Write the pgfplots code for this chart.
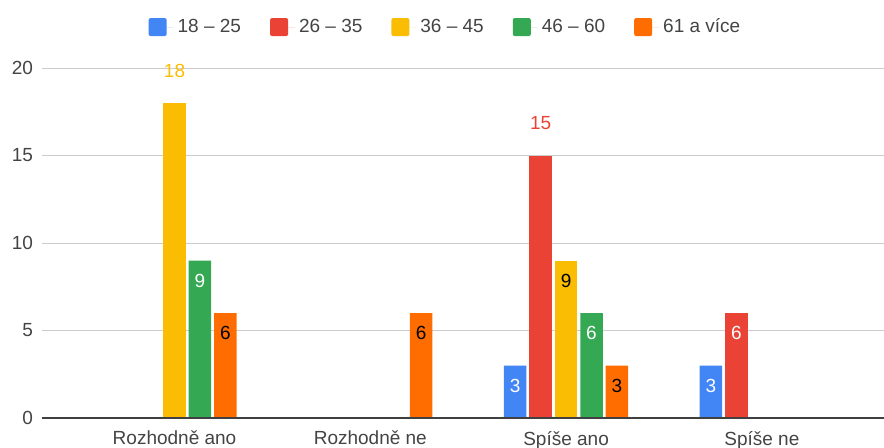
\documentclass[border=0pt]{standalone}
\usepackage{pgfplots}
\pgfplotsset{compat=1.18}
\usepackage{fontspec}
\setmainfont{Liberation Sans}

\definecolor{gblue}{HTML}{4285F4}
\definecolor{gred}{HTML}{EA4335}
\definecolor{gyellow}{HTML}{FBBC04}
\definecolor{ggreen}{HTML}{34A853}
\definecolor{gorange}{HTML}{FF6D01}
\definecolor{tickgray}{HTML}{444444}

\pgfplotsset{
    inlbl/.style={nodes near coords, nodes near coords style={anchor=center, yshift=-10pt, text=#1}},
    toplbl/.style={nodes near coords, nodes near coords style={anchor=center, yshift=16pt, text=#1}},
}

\begin{document}
\begin{tikzpicture}
\path[use as bounding box] (-21pt,-14.5pt) rectangle (421pt,209pt);
\begin{axis}[
    scale only axis,
    width=421pt,
    height=175pt,
    xmin=-0.677, xmax=3.624,
    ymin=0, ymax=20,
    ytick={0,5,10,15,20},
    xtick={0,1,2,3},
    xticklabels={Rozhodně ano, Rozhodně ne, Spíše ano, Spíše ne},
    major tick length=0pt,
    ymajorgrids,
    grid style={draw=black!20, line width=0.5pt},
    axis line style={draw=none},
    ybar,
    bar width=0.115,
    font=\fontsize{9.5}{11}\selectfont,
    ticklabel style={text=tickgray},
    /pgf/number format/assume math mode=true,
    yticklabel style={anchor=east, xshift=-1pt},
    xticklabel style={anchor=north, yshift=-3pt},
    legend columns=5,
    legend style={draw=none, at={(0.4804,1.117)}, anchor=center,
        font=\fontsize{9.5}{11}\selectfont, text=tickgray,
        /tikz/every even column/.append style={column sep=12.5pt}},
    legend image code/.code={\fill[#1, draw=none, rounded corners=1pt] (0pt,-4.5pt) rectangle (9pt,4.5pt); \path (0pt,0pt) -- (12.5pt,0pt);},
]
\addplot[fill=gblue, draw=none, bar shift=-0.26, inlbl=white] coordinates {(2,3) (3,3)};
\addlegendentry{18 – 25}
\addplot[fill=gred, draw=none, bar shift=-0.13, inlbl=white] coordinates {(3,6)};
\addlegendentry{26 – 35}
\addplot[fill=gyellow, draw=none, bar shift=0, inlbl=black] coordinates {(2,9)};
\addlegendentry{36 – 45}
\addplot[fill=ggreen, draw=none, bar shift=0.13, inlbl=white] coordinates {(0,9) (2,6)};
\addlegendentry{46 – 60}
\addplot[fill=gorange, draw=none, bar shift=0.26, inlbl=black] coordinates {(0,6) (1,6) (2,3)};
\addlegendentry{61 a více}
\addplot[fill=gred, draw=none, bar shift=-0.13, toplbl=gred, forget plot] coordinates {(2,15)};
\addplot[fill=gyellow, draw=none, bar shift=0, toplbl=gyellow, forget plot] coordinates {(0,18)};
\draw[black!75, line width=0.8pt] (axis cs:-0.677,0) -- (axis cs:3.624,0);
\end{axis}
\end{tikzpicture}
\end{document}
